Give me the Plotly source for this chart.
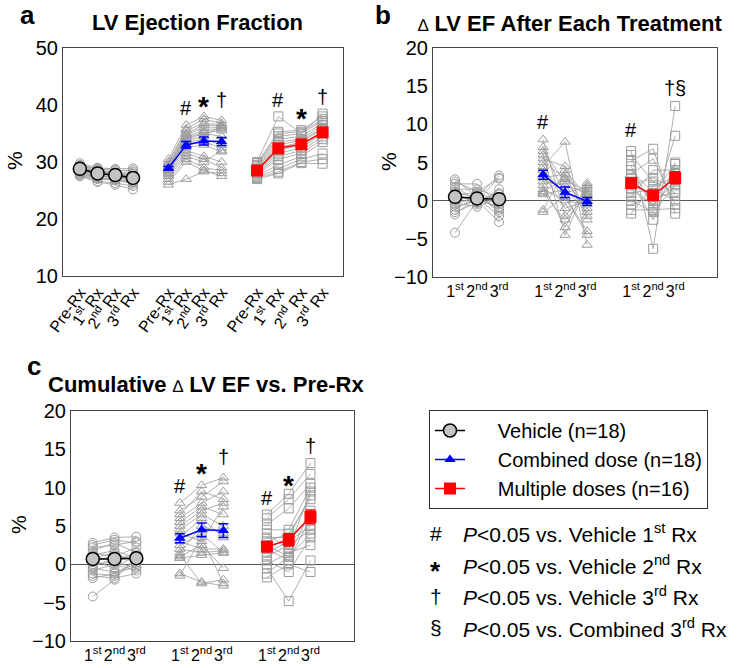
import plotly.graph_objects as go

# ---- data ----
# panel a: LV EF (%), columns = Pre-Rx, 1st Rx, 2nd Rx, 3rd Rx
ef_vehicle = [
    [29.8, 29.0, 28.8, 28.9], [29.5, 28.8, 28.5, 28.6], [29.3, 28.5, 28.2, 28.0],
    [29.2, 28.9, 28.6, 28.3], [29.0, 28.3, 28.0, 27.6], [28.9, 28.0, 27.8, 27.4],
    [28.8, 28.6, 28.0, 27.9], [28.7, 27.8, 27.5, 27.0], [28.6, 28.2, 27.9, 27.5],
    [28.5, 27.5, 27.2, 26.8], [28.4, 27.9, 27.6, 27.2], [28.3, 27.2, 27.0, 26.5],
    [28.2, 27.6, 27.3, 27.0], [28.0, 27.0, 26.8, 26.2], [27.9, 27.4, 27.5, 26.9],
    [27.8, 26.6, 26.3, 25.8], [27.6, 27.1, 26.9, 26.4], [27.5, 26.5, 26.0, 25.2],
]
ef_combined = [
    [30.5, 36.5, 38.0, 37.3], [30.0, 35.8, 37.5, 36.8], [29.8, 35.5, 36.8, 36.5],
    [29.5, 35.0, 36.5, 36.2], [29.3, 34.8, 36.0, 36.0], [29.2, 34.5, 35.5, 35.8],
    [29.0, 34.2, 35.2, 35.5], [29.0, 34.0, 35.0, 34.5], [28.8, 33.8, 34.5, 36.3],
    [28.6, 33.5, 34.0, 33.0], [28.5, 33.0, 33.5, 32.5], [28.3, 32.5, 33.0, 31.8],
    [28.0, 32.0, 31.0, 30.0], [27.8, 31.5, 30.5, 29.0], [27.5, 31.0, 30.0, 32.0],
    [27.0, 30.5, 29.0, 28.5], [26.5, 30.0, 28.5, 27.5], [26.0, 27.0, 28.3, 28.0],
]
ef_multiple = [
    [30.0, 38.0, 35.0, 38.5], [29.8, 35.3, 35.6, 38.0], [29.5, 35.0, 35.3, 37.5],
    [29.3, 34.5, 35.0, 37.2], [29.0, 34.0, 34.5, 36.8], [28.8, 33.5, 34.0, 36.5],
    [28.6, 33.0, 33.8, 36.0], [28.5, 32.5, 33.5, 35.8], [28.3, 32.0, 33.0, 35.5],
    [28.1, 31.5, 32.5, 35.0], [28.0, 31.0, 32.0, 34.5], [27.8, 30.5, 31.5, 34.0],
    [27.6, 29.5, 31.0, 33.5], [27.4, 28.8, 30.5, 31.5], [27.2, 28.3, 30.0, 30.5],
    [27.0, 28.0, 29.8, 29.7],
]
ef_mean = {"vehicle": [28.8, 28.0, 27.7, 27.2], "combined": [28.9, 33.0, 33.7, 33.6],
           "multiple": [28.5, 32.4, 33.1, 35.2]}
ef_sem = {"vehicle": [0.2, 0.2, 0.2, 0.3], "combined": [0.3, 0.6, 0.7, 0.7],
          "multiple": [0.3, 0.7, 0.5, 0.6]}

# panel b: delta EF after each treatment, columns = 1st, 2nd, 3rd
step_vehicle = [
    [2.8, 0.5, 3.3], [2.5, 1.2, 2.9], [2.2, 2.2, -0.5], [1.8, 0.0, 3.0], [1.5, 1.5, 0.5],
    [1.2, 0.3, -1.0], [1.0, -0.5, 1.5], [0.8, 1.0, 0.0], [0.5, 0.2, -0.8], [0.2, -0.2, 0.8],
    [0.0, 0.8, -1.5], [-0.3, -0.8, 0.3], [-0.5, 0.5, -0.3], [-0.8, 0.0, 1.0],
    [-1.2, 0.6, -1.2], [-1.5, -0.3, 0.2], [-1.8, 0.4, -2.0], [-4.2, 0.0, -2.8],
]
step_combined = [
    [8.0, -2.0, 1.5], [7.0, 0.5, -4.5], [6.5, 2.5, -1.0], [6.0, -4.5, 2.0], [5.5, 4.5, -2.0],
    [5.0, 3.0, 0.5], [4.5, 7.7, -5.8], [4.0, 1.0, 1.8], [3.5, -1.0, 0.0], [3.0, 3.5, -2.5],
    [2.5, 2.0, 1.0], [2.0, -3.5, 2.3], [1.5, 0.0, -0.5], [1.2, 2.8, 1.2], [1.0, -2.5, 0.8],
    [0.8, 1.5, -1.5], [-1.2, 4.0, 0.5], [-1.5, 0.5, -4.0],
]
step_multiple = [
    [6.5, -6.3, 12.4], [6.0, 2.5, 1.0], [5.2, 6.8, -1.7], [4.5, -1.0, 8.5], [4.0, 1.0, 4.8],
    [3.5, 5.5, -0.5], [3.0, 0.0, 3.5], [2.5, -2.5, 5.0], [2.0, 3.0, 1.5], [1.5, -0.5, 2.5],
    [1.0, 1.5, 0.0], [0.5, 4.0, 4.0], [0.0, -1.5, 2.0], [-0.5, 0.5, 1.0], [-1.2, -1.2, -1.0],
    [-1.7, 2.0, 3.0],
]
step_mean = {"vehicle": [0.5, 0.3, 0.2], "combined": [3.4, 1.1, -0.1], "multiple": [2.3, 0.7, 3.0]}
step_sem = {"vehicle": [0.4, 0.2, 0.4], "combined": [0.6, 0.7, 0.5], "multiple": [0.6, 0.6, 0.8]}

# panel c: cumulative delta EF vs Pre-Rx
cum_vehicle = [
    [2.8, 3.5, 3.6], [2.5, 3.2, 2.8], [2.2, 2.5, 3.0], [1.8, 2.8, 1.5], [1.5, 1.0, 2.2],
    [1.2, 1.8, 0.8], [1.0, 0.5, 1.5], [0.8, 1.5, 0.2], [0.5, -0.5, 1.2], [0.3, 1.2, 0.5],
    [0.0, 0.3, -0.5], [-0.3, 0.8, 1.0], [-0.5, -1.0, 0.0], [-0.8, 0.0, -0.8],
    [-1.2, -1.5, 0.5], [-1.5, -1.8, -1.2], [-1.8, -1.2, -0.3], [-4.2, -2.0, 1.0],
]
cum_combined = [
    [8.0, 10.3, 11.3], [7.0, 8.8, 10.8], [6.5, 9.5, 8.5], [6.0, 8.0, 9.5], [5.5, 7.5, 6.5],
    [5.0, 7.0, 8.0], [4.5, 6.5, 5.0], [4.0, 3.0, 7.5], [3.5, 6.0, 3.5], [3.0, 2.0, 2.0],
    [2.5, 4.0, 1.5], [2.0, 1.5, 1.8], [1.5, 5.0, 4.0], [1.2, -2.5, -2.0], [1.0, 2.5, -0.5],
    [0.8, 1.2, 1.5], [-1.2, -2.3, -2.8], [-1.5, 3.5, -2.5],
]
cum_multiple = [
    [6.5, 9.2, 13.2], [6.0, 8.5, 11.8], [5.2, 7.3, 10.5], [4.5, 4.5, 10.0], [4.0, 2.0, 9.5],
    [3.5, 3.5, 9.0], [3.0, 4.0, 8.5], [2.5, 1.0, 7.0], [2.0, 0.5, 6.0], [1.5, 3.0, 5.0],
    [1.0, 2.5, 4.5], [0.5, -1.0, 3.5], [0.0, 1.5, 2.5], [-0.5, -4.8, 0.5], [-1.2, 1.0, 4.0],
    [-1.7, 0.0, -1.0],
]
cum_mean = {"vehicle": [0.7, 0.7, 0.8], "combined": [3.4, 4.5, 4.4], "multiple": [2.3, 3.2, 6.2]}
cum_sem = {"vehicle": [0.4, 0.4, 0.3], "combined": [0.6, 0.9, 0.9], "multiple": [0.6, 0.8, 0.9]}

# x positions of each time point, per group
pos_a = {"vehicle": [1, 2, 3, 4], "combined": [6, 7, 8, 9], "multiple": [11, 12.2, 13.5, 14.7]}
pos_bc = {"vehicle": [1, 2, 3], "combined": [5, 6, 7], "multiple": [9, 10, 11]}

labels_a = ["Pre-Rx", "1<sup>st</sup> Rx", "2<sup>nd</sup> Rx", "3<sup>rd</sup> Rx"]
labels_bc = ["1<sup>st</sup>", "2<sup>nd</sup>", "3<sup>rd</sup>"]

# significance marks: (group, index, y, symbol)
sig_a = [("combined", 1, 39.5, "#"), ("combined", 2, 40.9, "*"), ("combined", 3, 40.9, "†"),
         ("multiple", 1, 40.9, "#"), ("multiple", 2, 38.8, "*"), ("multiple", 3, 41.4, "†")]
sig_b = [("combined", 0, 10.3, "#"), ("multiple", 0, 9.2, "#"), ("multiple", 2, 14.8, "†§")]
sig_c = [("combined", 0, 10.2, "#"), ("combined", 1, 12.7, "*"), ("combined", 2, 14.0, "†"),
         ("multiple", 0, 8.6, "#"), ("multiple", 1, 11.2, "*"), ("multiple", 2, 15.4, "†")]

names = {"vehicle": "Vehicle (n=18)", "combined": "Combined dose (n=18)",
         "multiple": "Multiple doses (n=16)"}

FONT = "Arial, Liberation Sans, sans-serif"
GRAY = "#9c9c9c"
NBSP = "\u00a0"
DELTA = "</b><span style='font-size:17px'>∆</span><b>"
open_sym = {"vehicle": "circle-open", "combined": "triangle-up-open", "multiple": "square-open"}
mean_style = {
    "vehicle": dict(color="black", marker=dict(symbol="circle", size=13, color="#c4c4c4",
                                                line=dict(color="black", width=1.5))),
    "combined": dict(color="#0000ff", marker=dict(symbol="triangle-up", size=10, color="#0000ff")),
    "multiple": dict(color="#ff0000", marker=dict(symbol="square", size=12, color="#ff0000")),
}

fig = go.Figure()


def add_panel(xa, ya, groups, means, sems, pos, legend):
    for g, rows in groups.items():
        xs, ys = [], []
        for r in rows:
            xs += pos[g] + [None]
            ys += r + [None]
        fig.add_trace(go.Scatter(
            x=xs, y=ys, mode="lines+markers", xaxis=xa, yaxis=ya, showlegend=False,
            line=dict(color=GRAY, width=0.8),
            marker=dict(symbol=open_sym[g], size=9, color=GRAY, line=dict(width=1)),
            hoverinfo="skip"))
    for g in groups:
        st = mean_style[g]
        fig.add_trace(go.Scatter(
            x=pos[g], y=means[g], mode="lines+markers", xaxis=xa, yaxis=ya,
            name=NBSP * 5 + names[g], showlegend=legend,
            line=dict(color=st["color"], width=1.5), marker=st["marker"],
            error_y=dict(type="data", array=sems[g], color=st["color"], thickness=1.5, width=5)))


add_panel("x", "y", {"vehicle": ef_vehicle, "combined": ef_combined, "multiple": ef_multiple},
          ef_mean, ef_sem, pos_a, True)
add_panel("x2", "y2", {"vehicle": step_vehicle, "combined": step_combined, "multiple": step_multiple},
          step_mean, step_sem, pos_bc, False)
add_panel("x3", "y3", {"vehicle": cum_vehicle, "combined": cum_combined, "multiple": cum_multiple},
          cum_mean, cum_sem, pos_bc, False)

ann = []
for sig, pos, xr, yr in [(sig_a, pos_a, "x", "y"), (sig_b, pos_bc, "x2", "y2"), (sig_c, pos_bc, "x3", "y3")]:
    for g, i, yv, s in sig:
        star = s == "*"
        ann.append(dict(x=pos[g][i], y=yv, xref=xr, yref=yr, text="<b>*</b>" if star else s,
                        showarrow=False, yshift=-7 if star else 0, xanchor="center", yanchor="middle",
                        font=dict(size=28 if star else 20, color="black", family=FONT)))


def paper_text(x, y, text, size, **kw):
    ann.append(dict(x=x / 746, y=1 - y / 668, xref="paper", yref="paper", text=text,
                    showarrow=False, xanchor=kw.pop("xanchor", "center"), yanchor="middle",
                    font=dict(size=size, family=FONT, color="black"), **kw))


# panel letters, titles, y-axis titles
for x, y, t in [(27, 15, "a"), (383, 15, "b"), (34, 366, "c")]:
    paper_text(x, y, "<b>%s</b>" % t, 26)
for x, y, t in [(197, 23, "LV Ejection Fraction"),
                (570, 24, DELTA + " LV EF After Each Treatment"),
                (206, 384, "Cumulative " + DELTA + " LV EF vs. Pre-Rx")]:
    paper_text(x, y, "<b>%s</b>" % t, 22)
for x, y in [(14, 160), (389, 162), (18, 525)]:
    paper_text(x, y, "%", 21, textangle=-90)

# significance key
key_syms = ["#", "*", "†", "§"]
key_text = ["<i>P</i><0.05 vs. Vehicle 1<sup>st</sup> Rx", "<i>P</i><0.05 vs. Vehicle 2<sup>nd</sup> Rx",
            "<i>P</i><0.05 vs. Vehicle 3<sup>rd</sup> Rx", "<i>P</i><0.05 vs. Combined 3<sup>rd</sup> Rx"]
for k, (s, t) in enumerate(zip(key_syms, key_text)):
    yk = 533 + 31.5 * k
    if s == "*":
        paper_text(436, yk, "<b>*</b>", 26, yshift=-6)
    else:
        paper_text(436, yk, s, 21)
    paper_text(461, yk, t, 21, xanchor="left")

axis_common = dict(showline=True, mirror=True, linecolor="#444", linewidth=1, ticks="",
                   showgrid=False, zeroline=False, automargin=False,
                   tickfont=dict(size=20, family=FONT, color="black"))

fig.update_layout(
    template="none",
    width=746, height=668, margin=dict(l=0, r=0, t=0, b=0, autoexpand=False),
    paper_bgcolor="white", plot_bgcolor="white", font=dict(family=FONT, color="black"),
    xaxis=dict(axis_common, domain=[63 / 746, 343 / 746], range=[0.05, 15.85],
               tickvals=sum(pos_a.values(), []), ticktext=labels_a * 3, tickangle=-55,
               tickfont=dict(size=16, family=FONT, color="black")),
    yaxis=dict(axis_common, domain=[1 - 276 / 668, 1 - 48 / 668], range=[10, 50],
               tickvals=[10, 20, 30, 40, 50], anchor="x"),
    xaxis2=dict(axis_common, domain=[433 / 746, 717 / 746], range=[0, 12.9], anchor="y2",
                tickvals=sum(pos_bc.values(), []), ticktext=labels_bc * 3, tickangle=0,
                tickfont=dict(size=16, family=FONT, color="black")),
    yaxis2=dict(axis_common, domain=[1 - 277 / 668, 1 - 48 / 668], range=[-10, 20], anchor="x2",
                tickvals=[-10, -5, 0, 5, 10, 15, 20], zeroline=True, zerolinecolor="#555",
                zerolinewidth=1),
    xaxis3=dict(axis_common, domain=[71 / 746, 354 / 746], range=[0, 13], anchor="y3",
                tickvals=sum(pos_bc.values(), []), ticktext=labels_bc * 3, tickangle=0,
                tickfont=dict(size=16, family=FONT, color="black")),
    yaxis3=dict(axis_common, domain=[1 - 641 / 668, 1 - 411 / 668], range=[-10, 20], anchor="x3",
                tickvals=[-10, -5, 0, 5, 10, 15, 20], zeroline=True, zerolinecolor="#555",
                zerolinewidth=1),
    legend=dict(x=429 / 746, y=1 - 410 / 668, xanchor="left", yanchor="top",
                bordercolor="#333", borderwidth=1, bgcolor="white", tracegroupgap=0,
                font=dict(size=20, family=FONT, color="black")),
    annotations=ann,
)

# page margin off so the figure sits at the window's top-left corner
fig.write_html("out.html", config={"displayModeBar": False},
               post_script="document.body.style.margin='0';")
